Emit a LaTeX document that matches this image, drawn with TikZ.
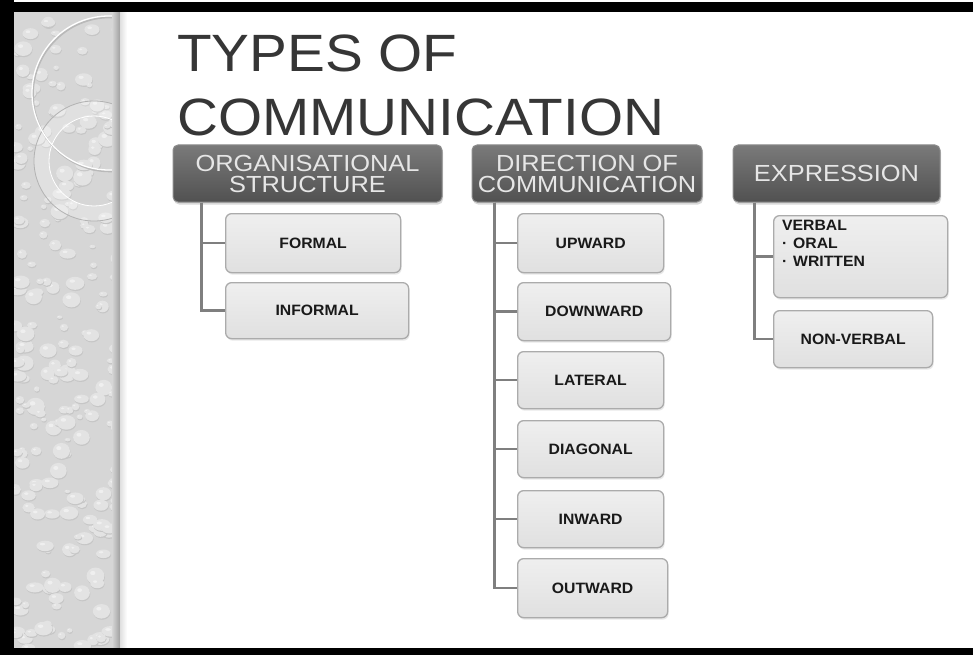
\documentclass[tikz,border=0pt]{standalone}
\usepackage{fontspec}
\setmainfont{Liberation Sans}
\newfontfamily\titlefont[FakeStretch=1.08]{Liberation Sans}
\newfontfamily\hdrfont[FakeStretch=1.09]{Liberation Sans}
\newfontfamily\boxfont[FakeStretch=1.05]{Liberation Sans}
\usetikzlibrary{shadows}
\definecolor{conn}{HTML}{7F7F7F}
\definecolor{hdrtop}{HTML}{7A7A7A}
\definecolor{hdrbot}{HTML}{515151}
\definecolor{hdrline}{HTML}{8C8C8C}
\definecolor{hdrtext}{HTML}{E6E6E6}
\definecolor{itemtop}{HTML}{EFEFEF}
\definecolor{itembot}{HTML}{E0E0E0}
\definecolor{itemline}{HTML}{ABABAB}
\definecolor{titlecol}{HTML}{363636}
\definecolor{panelcol}{HTML}{D6D6D6}
\tikzset{
  hdr/.style={rectangle, rounded corners=5pt, draw=hdrline, line width=1pt,
    top color=hdrtop, bottom color=hdrbot, text=hdrtext,
    font=\hdrfont\fontsize{23.3}{21}\selectfont, align=center, inner sep=0pt,
    drop shadow={shadow xshift=1pt, shadow yshift=-2.5pt, opacity=0.3}},
  item/.style={rectangle, rounded corners=6pt, draw=itemline, line width=1.3pt,
    top color=itemtop, bottom color=itembot, text=black!90,
    font=\boxfont\bfseries\fontsize{15}{18}\selectfont, inner sep=0pt, anchor=north west,
    drop shadow={shadow xshift=1pt, shadow yshift=-2pt, opacity=0.18}},
  cn/.style={draw=conn, line width=2.5pt},
  ttl/.style={font=\titlefont\fontsize{52.5}{65}\selectfont, text=titlecol, inner sep=0pt, anchor=base west}
}
\begin{document}
\begin{tikzpicture}[x=1pt,y=-1pt]
\useasboundingbox (0,0) rectangle (973,655);
\fill[white] (0,0) rectangle (973,655);
% decorative left panel
\begin{scope}
\clip (14,12) rectangle (120,648);
\fill[panelcol] (14,12) rectangle (120,648);
\pgfmathsetseed{12}
\foreach \i in {1,...,240}{
  \pgfmathsetmacro\px{14+110*rnd}
  \pgfmathsetmacro\py{10+640*rnd}
  \pgfmathsetmacro\rr{2.5+7*rnd}
  \pgfmathsetmacro\ry{\rr*(0.55+0.4*rnd)}
  \fill[gray!45] (\px+0.5,\py+1.2) ellipse [x radius=\rr pt, y radius=\ry pt];
  \fill[gray!22] (\px,\py) ellipse [x radius=\rr pt, y radius=\ry pt];
  \fill[white,opacity=0.45] (\px-0.3*\rr,\py-0.35*\ry) ellipse [x radius=0.3*\rr pt, y radius=0.25*\ry pt];
}
\fill[white,opacity=0.25,even odd rule] (94,161) circle (60pt) (94,161) circle (45pt);
\draw[gray!60,line width=0.8pt] (94,161) circle (60pt);
\draw[white,line width=0.8pt] (94,161) circle (45pt);
\draw[gray!55,line width=1.6pt] (110,94.5) circle (77pt);
\draw[white,line width=1.3pt] (109,93) circle (77pt);
\shade[left color=panelcol, right color=gray!75] (112,12) rectangle (120,648);
\end{scope}
\shade[left color=gray!25, right color=white] (120,12) rectangle (127,648);
% frame
\fill[black] (0,2) rectangle (973,12);
\fill[black] (0,0) rectangle (14,655);
\fill[black] (0,648) rectangle (973,655);
% title
\node[ttl] (t1) at (177,72) {TYPES OF};
\node[ttl] (t2) at (177,136) {COMMUNICATION};
% headers
\node[hdr, minimum width=269pt, minimum height=57pt] (org) at (307.5,173.5) {ORGANISATIONAL\\STRUCTURE};
\node[hdr, minimum width=230pt, minimum height=57pt] (dir) at (587,173.5) {DIRECTION OF\\COMMUNICATION};
\node[hdr, minimum width=207pt, minimum height=57pt] (exp) at (836.5,173.5) {EXPRESSION};
% items
\node[item, minimum width=175pt, minimum height=59pt] (formal) at (225,213) {FORMAL};
\node[item, minimum width=183pt, minimum height=56pt] (informal) at (225,282) {INFORMAL};
\node[item, minimum width=146pt, minimum height=59pt] (upward) at (517,213) {UPWARD};
\node[item, minimum width=153pt, minimum height=58pt] (downward) at (517,282) {DOWNWARD};
\node[item, minimum width=146pt, minimum height=57pt] (lateral) at (517,351) {LATERAL};
\node[item, minimum width=146pt, minimum height=57pt] (diagonal) at (517,420) {DIAGONAL};
\node[item, minimum width=146pt, minimum height=57pt] (inward) at (517,490) {INWARD};
\node[item, minimum width=150pt, minimum height=59pt] (outward) at (517,558) {OUTWARD};
\node[item, minimum width=174pt, minimum height=82pt] (verbal) at (773,215) {};
\node[anchor=north west, inner sep=0pt, align=left, text=black!90,
  font=\boxfont\bfseries\fontsize{15}{18}\selectfont] (verbaltxt) at (782,219.5)
  {VERBAL\\\makebox[11pt][l]{·}ORAL\\\makebox[11pt][l]{·}WRITTEN};
\node[item, minimum width=159pt, minimum height=57pt] (nonverbal) at (773,310) {NON-VERBAL};
% connectors
\coordinate (oc) at ([xshift=29pt]org.south west);
\draw[cn] (oc) |- (formal.west);
\draw[cn] (oc) |- (informal.west);
\coordinate (dc) at ([xshift=23pt]dir.south west);
\foreach \n in {upward,downward,lateral,diagonal,inward,outward}{
  \draw[cn] (dc) |- (\n.west);
}
\coordinate (ec) at ([xshift=22pt]exp.south west);
\draw[cn] (ec) |- (verbal.west);
\draw[cn] (ec) |- (nonverbal.west);
\end{tikzpicture}
\end{document}
